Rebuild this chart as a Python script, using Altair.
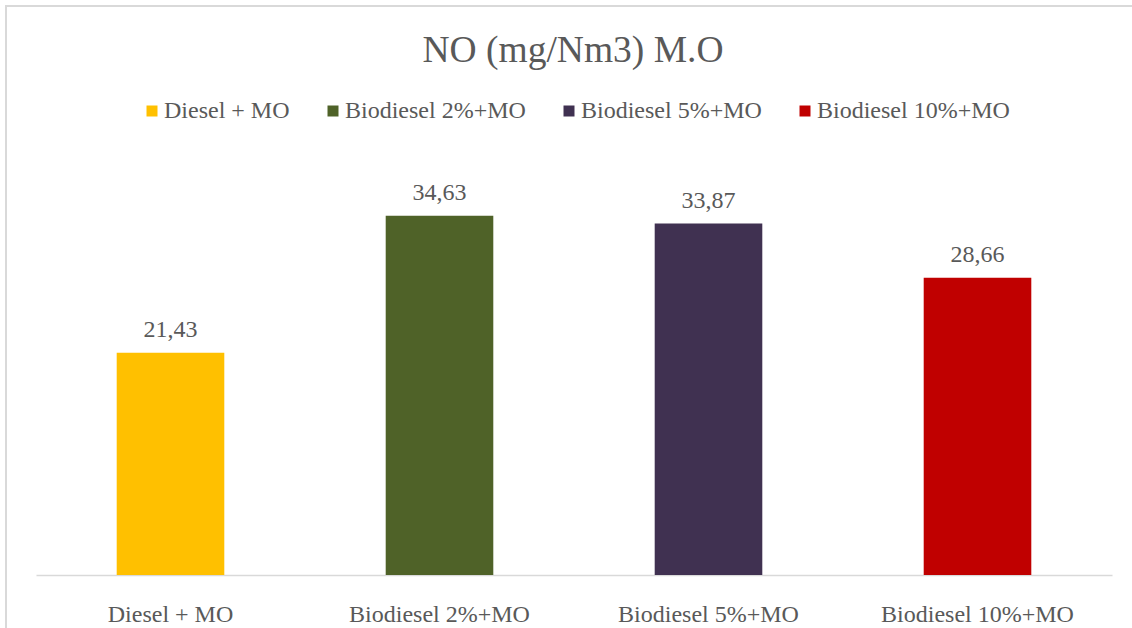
import altair as alt
import pandas as pd

# NO emissions (mg/Nm3) for each fuel blend with M.O
categories = ["Diesel + MO", "Biodiesel 2%+MO", "Biodiesel 5%+MO", "Biodiesel 10%+MO"]
values = [21.43, 34.63, 33.87, 28.66]
colors = ["#FFC000", "#4F6228", "#403151", "#C00000"]
title_text = ["NO (mg/Nm3) M.O"]

df = pd.DataFrame({"fuel": categories, "no": values})
df["label"] = [f"{v:.2f}".replace(".", ",") for v in values]
title_df = pd.DataFrame({"title": title_text})

FONT = "Liberation Serif"
TEXT = "#595959"
LINE = "#D9D9D9"

x_enc = alt.X(
    "fuel:N",
    sort=categories,
    scale=alt.Scale(paddingInner=0.6, paddingOuter=0.3),
    axis=alt.Axis(
        title=None,
        labelAngle=0,
        labelFont=FONT,
        labelFontSize=24,
        labelColor=TEXT,
        labelBaseline="alphabetic",
        labelPadding=46,
        labelLimit=0,
        ticks=False,
        tickSize=0,
        domainColor=LINE,
        domainWidth=1.5,
        grid=False,
    ),
)
y_enc = alt.Y("no:Q", scale=alt.Scale(domain=[0, 40], nice=False), axis=None)

bars = alt.Chart(df).mark_bar().encode(
    x=x_enc,
    y=y_enc,
    color=alt.Color(
        "fuel:N",
        sort=categories,
        scale=alt.Scale(domain=categories, range=colors),
        legend=alt.Legend(
            title=None,
            orient="none",
            direction="horizontal",
            legendX=104,
            legendY=-61,
            padding=0,
            symbolType="square",
            symbolSize=121,
            symbolStrokeWidth=0,
            labelFont=FONT,
            labelFontSize=24,
            labelColor=TEXT,
            labelOffset=0,
            columnPadding=31,
            labelLimit=0,
        ),
    ),
)

labels = alt.Chart(df).mark_text(
    font=FONT, fontSize=24, color=TEXT, baseline="alphabetic", dy=-16
).encode(x=alt.X("fuel:N", sort=categories), y="no:Q", text="label:N")

# chart heading, centred over the plot
heading = alt.Chart(title_df).mark_text(
    font=FONT, fontSize=37.5, color=TEXT, align="center", baseline="alphabetic"
).encode(x=alt.value(537), y=alt.value(-98), text="title:N")

# light frame around the chart (top and left edges)
frame_top = alt.Chart(title_df).mark_rule(color=LINE, strokeWidth=2).encode(
    x=alt.value(-31), x2=alt.value(1100), y=alt.value(-154)
)
frame_left = alt.Chart(title_df).mark_rule(color=LINE, strokeWidth=2).encode(
    x=alt.value(-30), y=alt.value(-155), y2=alt.value(470)
)

chart = (
    alt.layer(frame_top, frame_left, heading, bars, labels)
    .properties(
        width=1076,
        height=415,
        view=alt.ViewBackground(strokeOpacity=0, strokeWidth=0),
        autosize=alt.AutoSizeParams(type="none"),
        padding={"left": 36, "top": 160, "right": 20, "bottom": 53},
    )
    .configure_view(strokeOpacity=0, strokeWidth=0)
    .configure(background="white")
)

chart.save("out.html", embed_options={"renderer": "svg", "actions": False})
